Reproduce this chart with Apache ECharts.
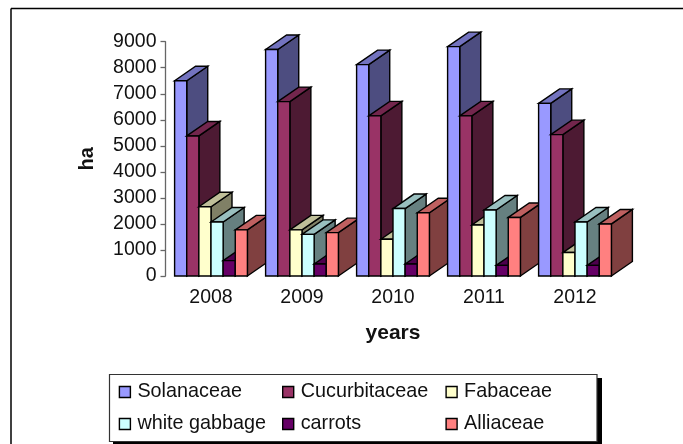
<!DOCTYPE html>
<html>
<head>
<meta charset="utf-8">
<style>html,body{margin:0;padding:0;background:#fff}#c{width:683px;height:444px}</style>
<script src="https://cdn.jsdelivr.net/npm/echarts@6/dist/echarts.min.js"></script>
</head>
<body>
<div id="c"></div>
<script>
const years = ['2008','2009','2010','2011','2012'];
const yTicks = [0,1000,2000,3000,4000,5000,6000,7000,8000,9000];
const solanaceae = [7500,8700,8120,8810,6630];
const cucurbitaceae = [5380,6700,6150,6150,5430];
const fabaceae = [2660,1770,1410,1960,900];
const whiteGabbage = [2075,1600,2590,2535,2075];
const carrots = [590,460,460,410,410];
const alliaceae = [1770,1665,2430,2250,2000];
const names = ['Solanaceae','Cucurbitaceae','Fabaceae','white gabbage','carrots','Alliaceae'];
const values = [solanaceae,cucurbitaceae,fabaceae,whiteGabbage,carrots,alliaceae];
const colors = ['#9999FF','#993366','#FFFFCC','#CCFFFF','#660066','#FF8080'];
const FONT = '"Liberation Sans", Arial, sans-serif';
const DX = 21, DY = -14.5, FILL = 0.8;

function shade(hex, k){
  const n = parseInt(hex.slice(1),16);
  const f = v => Math.round(v*k);
  return `rgb(${f(n>>16&255)},${f(n>>8&255)},${f(n&255)})`;
}
function bar3d(si){
  return function(params, api){
    const cat = api.value(0), val = api.value(1);
    const top = api.coord([cat,val]), base = api.coord([cat,0]);
    const band = api.size([1,0])[0];
    const w = band*FILL/names.length;
    const x0 = top[0]-band*FILL/2+w*si, x1 = x0+w;
    const yT = top[1], yB = base[1];
    const stroke = {stroke:'#000',lineWidth:1.4,lineJoin:'miter'};
    const z2 = cat*10+si;
    return {type:'group',children:[
      {type:'polygon',z2,shape:{points:[[x1,yT],[x1+DX,yT+DY],[x1+DX,yB+DY],[x1,yB]]},
       style:Object.assign({fill:shade(colors[si],0.5)},stroke)},
      {type:'polygon',z2,shape:{points:[[x0,yT],[x0+DX,yT+DY],[x1+DX,yT+DY],[x1,yT]]},
       style:Object.assign({fill:shade(colors[si],0.75)},stroke)},
      {type:'polygon',z2,shape:{points:[[x0,yT],[x1,yT],[x1,yB],[x0,yB]]},
       style:Object.assign({fill:colors[si]},stroke)}
    ]};
  };
}
function legendCol(left,data){
  return {orient:'vertical',left,top:381,padding:0,itemWidth:11,itemHeight:11,itemGap:10,icon:'rect',
    data,selectedMode:false,itemStyle:{borderColor:'#000',borderWidth:1.4},
    textStyle:{fontFamily:FONT,fontSize:19.8,color:'#111',lineHeight:22,padding:[0,0,0,2]}};
}
const chart = echarts.init(document.getElementById('c'),null,{renderer:'canvas'});
chart.setOption({
  animation:false,
  backgroundColor:'#fff',
  grid:{left:165.5,width:455,top:41.7,bottom:168,containLabel:false},
  xAxis:{type:'category',data:years,
    name:'years',nameLocation:'middle',nameGap:47,
    nameTextStyle:{fontFamily:FONT,fontSize:21,fontWeight:'bold',color:'#111'},
    axisLine:{show:false},axisTick:{show:false},
    axisLabel:{fontFamily:FONT,fontSize:19.5,color:'#111',margin:12},
    splitLine:{show:false}},
  yAxis:{type:'value',min:yTicks[0],max:yTicks[yTicks.length-1],interval:yTicks[1]-yTicks[0],
    name:'ha',nameLocation:'middle',nameGap:68,nameRotate:90,
    nameTextStyle:{fontFamily:FONT,fontSize:20,fontWeight:'bold',color:'#111'},
    axisLine:{show:true,lineStyle:{color:'#666',width:1.3}},
    axisTick:{show:true,length:5,lineStyle:{color:'#666',width:1.3}},
    axisLabel:{fontFamily:FONT,fontSize:19.5,color:'#111',margin:9,formatter:v=>String(v)},
    splitLine:{show:false}},
  legend:[legendCol(118.7,[names[0],names[3]]),legendCol(282,[names[1],names[4]]),legendCol(445.4,[names[2],names[5]])],
  graphic:[
    {type:'line',silent:true,shape:{x1:11,y1:8.5,x2:683,y2:8.5},style:{stroke:'#000',lineWidth:1.5}},
    {type:'line',silent:true,shape:{x1:11,y1:8.5,x2:11,y2:444},style:{stroke:'#000',lineWidth:1.5}},
    {type:'rect',silent:true,z:1,shape:{x:113,y:378,width:489,height:67},style:{fill:'#000'}},
    {type:'rect',silent:true,z:2,shape:{x:109.5,y:374.5,width:487.5,height:67},style:{fill:'#fff',stroke:'#333',lineWidth:1.2}}
  ],
  series:names.map((name,si)=>({
    type:'custom',name,clip:false,
    itemStyle:{color:colors[si]},
    encode:{x:0,y:1},
    renderItem:bar3d(si),
    data:values[si].map((v,i)=>[i,v])
  }))
});
</script>
</body>
</html>
